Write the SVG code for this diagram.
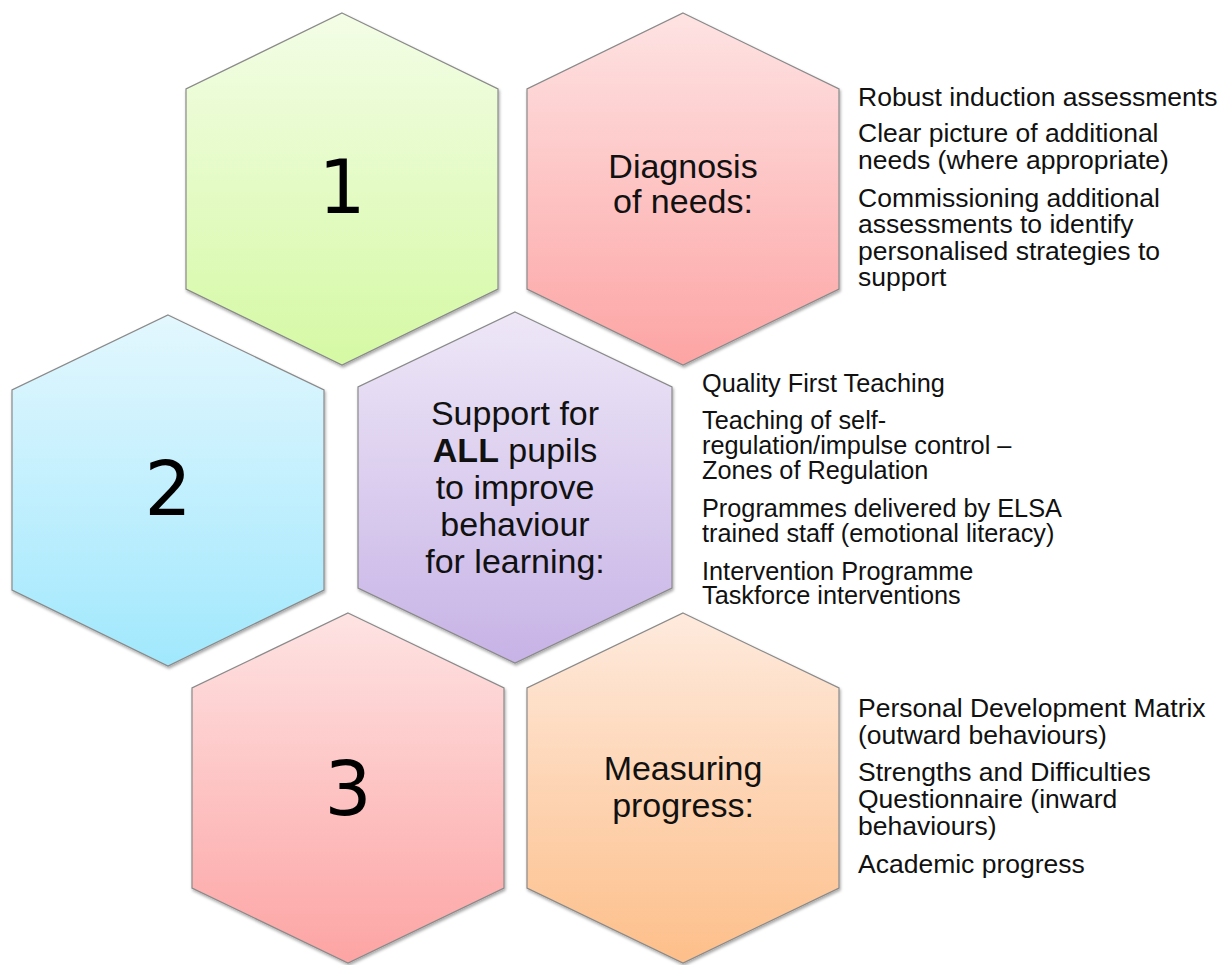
<svg xmlns="http://www.w3.org/2000/svg" width="1232" height="965" viewBox="0 0 1232 965">
<defs>
<linearGradient id="gGreen" x1="0" y1="0" x2="0" y2="1"><stop offset="0" stop-color="#f3fde6"/><stop offset="1" stop-color="#d5f9a4"/></linearGradient>
<linearGradient id="gPink" x1="0" y1="0" x2="0" y2="1"><stop offset="0" stop-color="#fee3e3"/><stop offset="1" stop-color="#fda4a4"/></linearGradient>
<linearGradient id="gBlue" x1="0" y1="0" x2="0" y2="1"><stop offset="0" stop-color="#e3f7fe"/><stop offset="1" stop-color="#a1e8fd"/></linearGradient>
<linearGradient id="gPurple" x1="0" y1="0" x2="0" y2="1"><stop offset="0" stop-color="#eee7f7"/><stop offset="1" stop-color="#c7b3e6"/></linearGradient>
<linearGradient id="gPeach" x1="0" y1="0" x2="0" y2="1"><stop offset="0" stop-color="#feeadd"/><stop offset="1" stop-color="#fdbf8a"/></linearGradient>
<filter id="shadow" x="-10%" y="-10%" width="120%" height="120%">
<feDropShadow dx="1" dy="2" stdDeviation="1.8" flood-color="#000" flood-opacity="0.35"/>
</filter>
</defs>
<style>
.hex { stroke: #8a8a8a; stroke-width: 1.2; filter: url(#shadow); }
.num { font-family: "DejaVu Sans", "Liberation Sans", sans-serif; font-size: 74px; fill: #000; text-anchor: middle; }
.lbl { font-family: "Liberation Sans", Arial, sans-serif; font-size: 34px; fill: #111; text-anchor: middle; }
.lbl .b { font-weight: bold; }
.lst { font-family: "Liberation Sans", Arial, sans-serif; font-size: 26.5px; fill: #111; }
.lst2 { font-family: "Liberation Sans", Arial, sans-serif; font-size: 25.3px; fill: #111; }
</style>
<rect width="1232" height="965" fill="#ffffff"/>

<g id="hex1">
<polygon class="hex" fill="url(#gGreen)" points="342,13 498,89 498,289 342,365 186,289 186,89"/>
<text class="num" x="342" y="213">1</text>
</g>

<g id="hex-diagnosis">
<polygon class="hex" fill="url(#gPink)" points="683,13 839,89 839,289 683,365 527,289 527,89"/>
<text class="lbl" x="683" y="178">Diagnosis</text>
<text class="lbl" x="683" y="213">of needs:</text>
</g>

<g id="list-diagnosis" class="lst">
<text x="858" y="106">Robust induction assessments</text>
<text x="858" y="142">Clear picture of additional</text>
<text x="858" y="168.5">needs (where appropriate)</text>
<text x="858" y="206.5">Commissioning additional</text>
<text x="858" y="233">assessments to identify</text>
<text x="858" y="259.5">personalised strategies to</text>
<text x="858" y="286">support</text>
</g>

<g id="hex2">
<polygon class="hex" fill="url(#gBlue)" points="168,315 324,390 324,590 168,666 12,590 12,390"/>
<text class="num" x="168" y="515">2</text>
</g>

<g id="hex-support">
<polygon class="hex" fill="url(#gPurple)" points="515,312 672,387 672,588 515,663 358,588 358,387"/>
<text class="lbl" x="515" y="425">Support for</text>
<text class="lbl" x="515" y="462"><tspan class="b">ALL</tspan> pupils</text>
<text class="lbl" x="515" y="499">to improve</text>
<text class="lbl" x="515" y="536">behaviour</text>
<text class="lbl" x="515" y="573">for learning:</text>
</g>

<g id="list-support" class="lst2">
<text x="702" y="392">Quality First Teaching</text>
<text x="702" y="428.5">Teaching of self-</text>
<text x="702" y="453.5">regulation/impulse control –</text>
<text x="702" y="478.5">Zones of Regulation</text>
<text x="702" y="517">Programmes delivered by ELSA</text>
<text x="702" y="542">trained staff (emotional literacy)</text>
<text x="702" y="580">Intervention Programme</text>
<text x="702" y="604">Taskforce interventions</text>
</g>

<g id="hex3">
<polygon class="hex" fill="url(#gPink)" points="348,613 504,688 504,888 348,963 192,888 192,688"/>
<text class="num" x="348" y="815">3</text>
</g>

<g id="hex-measuring">
<polygon class="hex" fill="url(#gPeach)" points="683,613 839,688 839,888 683,963 527,888 527,688"/>
<text class="lbl" x="683" y="780">Measuring</text>
<text class="lbl" x="683" y="817">progress:</text>
</g>

<g id="list-measuring" class="lst">
<text x="858" y="717">Personal Development Matrix</text>
<text x="858" y="743.5">(outward behaviours)</text>
<text x="858" y="780.5">Strengths and Difficulties</text>
<text x="858" y="807.5">Questionnaire (inward</text>
<text x="858" y="834.5">behaviours)</text>
<text x="858" y="872.5">Academic progress</text>
</g>

<g id="connectors"></g>
</svg>
